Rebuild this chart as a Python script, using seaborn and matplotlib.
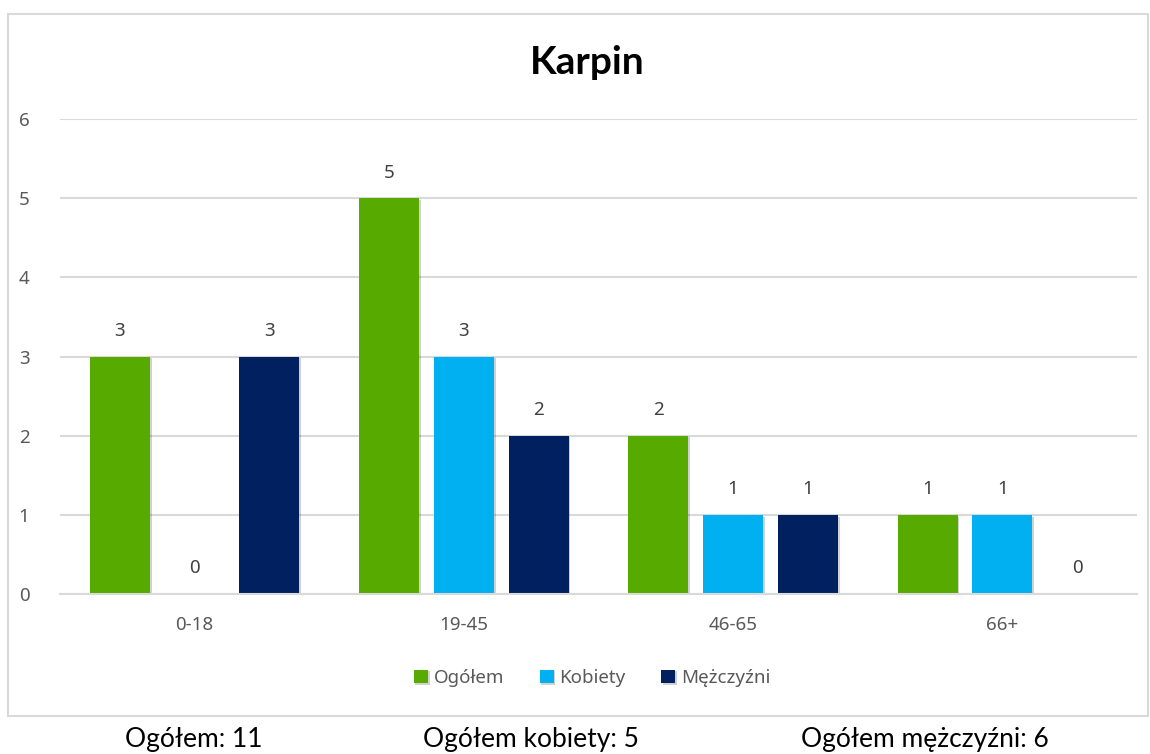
import matplotlib
matplotlib.use("Agg")
import matplotlib.pyplot as plt
import matplotlib.patheffects as pe
from matplotlib.patches import Rectangle
import seaborn as sns
import pandas as pd

# ---- data ----
categories = ["0-18", "19-45", "46-65", "66+"]
series_names = ["Ogółem", "Kobiety", "Mężczyźni"]
ogolem = [3, 5, 2, 1]
kobiety = [0, 3, 1, 1]
mezczyzni = [3, 2, 1, 0]
colors = ["#56AA00", "#00B0F0", "#002060"]
title = "Karpin"
footer_texts = ["Ogółem: 11", "Ogółem kobiety: 5", "Ogółem mężczyźni: 6"]

rows = []
for name, vals in zip(series_names, [ogolem, kobiety, mezczyzni]):
    for c, v in zip(categories, vals):
        rows.append({"Grupa": c, "Seria": name, "Liczba": v})
df = pd.DataFrame(rows)

sns.set_theme(style="white")
plt.rcParams["font.family"] = ["Noto Sans", "DejaVu Sans"]

fig = plt.figure(figsize=(11.5, 7.54), dpi=100)
ax = fig.add_axes([60 / 1150, 1 - 594 / 754, (1137 - 60) / 1150, (594 - 119) / 754])

sns.barplot(data=df, x="Grupa", y="Liczba", hue="Seria", order=categories,
            hue_order=series_names, palette=colors, width=0.8325, gap=0.196,
            saturation=1, ax=ax, legend=True, linewidth=0)

shadow = [pe.SimplePatchShadow(offset=(1.2, -1.2), shadow_rgbFace="#000000", alpha=0.18), pe.Normal()]
for p in ax.patches:
    p.set_path_effects(shadow)

for cont in ax.containers:
    ax.bar_label(cont, labels=[f"{int(v)}" for v in cont.datavalues], padding=12,
                 fontsize=13.5, color="#404040")

ax.set_ylim(0, 6)
ax.set_xlim(-0.5, 3.5)
ax.set_yticks(range(0, 7))
ax.yaxis.grid(True, color="#D9D9D9", linewidth=1.5)
ax.set_axisbelow(True)
for s in ["top", "right", "left"]:
    ax.spines[s].set_visible(False)
ax.spines["bottom"].set_color("#D9D9D9")
ax.spines["bottom"].set_linewidth(1.5)
ax.tick_params(axis="y", length=0, pad=22, labelsize=13.5, labelcolor="#595959")
ax.tick_params(axis="x", length=0, pad=16, labelsize=13.5, labelcolor="#595959")
ax.set_xlabel("")
ax.set_ylabel("")

handles, labels = ax.get_legend_handles_labels()
ax.legend(handles, labels, loc="center", bbox_to_anchor=(592 / 1150, 1 - 678 / 754),
          bbox_transform=fig.transFigure, ncol=3, frameon=False, fontsize=13.5,
          handlelength=0.75, handleheight=0.75, handletextpad=0.3, columnspacing=1.9,
          labelcolor="#595959")

fig.text(587 / 1150, 1 - 62 / 754, title, ha="center", va="center", fontsize=28,
         fontweight="bold", family=["Lato", "DejaVu Sans"], color="#000000")

fig.patches.append(Rectangle((8 / 1150, 1 - 716 / 754), (1148 - 8) / 1150, (716 - 14) / 754,
                             transform=fig.transFigure, fill=False, edgecolor="#D9D9D9",
                             linewidth=1.5))

for x, t in zip([194, 531, 925], footer_texts):
    fig.text(x / 1150, 1 - 740 / 754, t, ha="center", va="center", fontsize=19,
             family=["Lato", "DejaVu Sans"], color="#000000")

fig.savefig("out.png", dpi=100)
